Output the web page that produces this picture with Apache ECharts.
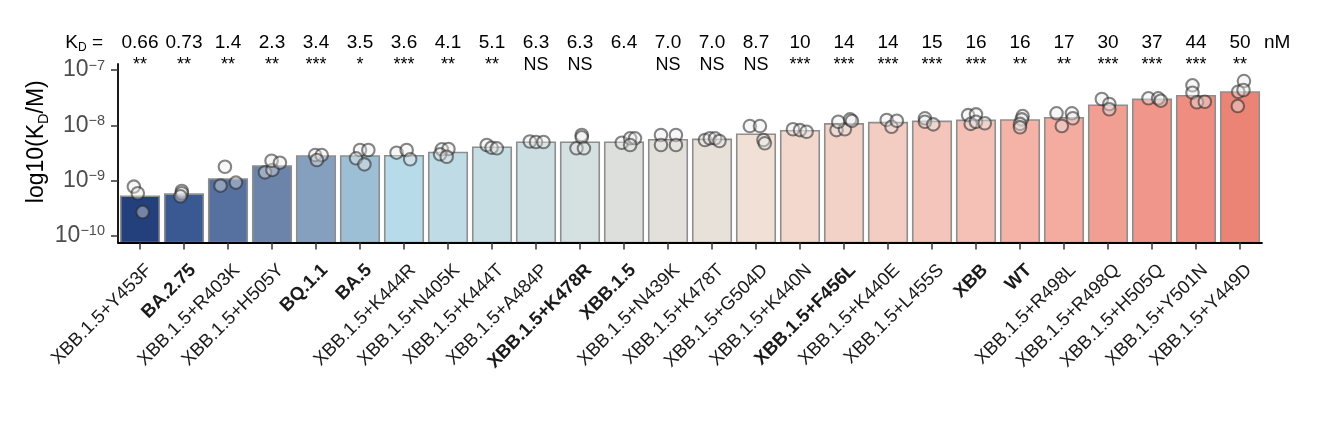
<!DOCTYPE html>
<html>
<head>
<meta charset="utf-8">
<script src="https://cdn.jsdelivr.net/npm/echarts@6/dist/echarts.min.js"></script>
<style>
html,body{margin:0;padding:0;background:#fff;}
#chart{width:1333px;height:437px;}
</style>
</head>
<body>
<div id="chart"></div>
<script>
// ---- data ----
const categories = ['XBB.1.5+Y453F','BA.2.75','XBB.1.5+R403K','XBB.1.5+H505Y','BQ.1.1','BA.5','XBB.1.5+K444R','XBB.1.5+N405K','XBB.1.5+K444T','XBB.1.5+A484P','XBB.1.5+K478R','XBB.1.5','XBB.1.5+N439K','XBB.1.5+K478T','XBB.1.5+G504D','XBB.1.5+K440N','XBB.1.5+F456L','XBB.1.5+K440E','XBB.1.5+L455S','XBB','WT','XBB.1.5+R498L','XBB.1.5+R498Q','XBB.1.5+H505Q','XBB.1.5+Y501N','XBB.1.5+Y449D'];
const highlighted = ['BA.2.75','BQ.1.1','BA.5','XBB.1.5+K478R','XBB.1.5','XBB.1.5+F456L','XBB','WT'];
const kdLabels = ['0.66','0.73','1.4','2.3','3.4','3.5','3.6','4.1','5.1','6.3','6.3','6.4','7.0','7.0','8.7','10','14','14','15','16','16','17','30','37','44','50'];
const significance = ['**','**','**','**','***','*','***','**','**','NS','NS','','NS','NS','NS','***','***','***','***','***','**','**','***','***','***','**'];
// bar heights (K_D, M)
const barValues = [5.2e-10,5.7e-10,1.07e-9,1.84e-9,2.79e-9,2.79e-9,2.82e-9,3.22e-9,4.0e-9,4.93e-9,4.93e-9,4.93e-9,5.49e-9,5.58e-9,6.88e-9,7.98e-9,1.06e-8,1.12e-8,1.18e-8,1.23e-8,1.25e-8,1.37e-8,2.30e-8,2.95e-8,3.42e-8,4.0e-8];
// replicate measurements (K_D, M) per category
const replicates = [
  [7.8e-10,5.9e-10,2.7e-10],
  [6.5e-10,5.9e-10,5.2e-10],
  [1.78e-9,8.1e-10,9.2e-10],
  [1.41e-9,1.56e-9,2.29e-9,2.11e-9],
  [2.9e-9,2.9e-9,2.36e-9],
  [3.58e-9,3.58e-9,2.53e-9,1.97e-9],
  [3.2e-9,3.58e-9,2.43e-9],
  [3.68e-9,3.73e-9,2.99e-9,2.70e-9],
  [4.41e-9,3.94e-9,3.84e-9],
  [5.1e-9,5.0e-9,5.0e-9],
  [6.68e-9,6.07e-9,3.84e-9,3.84e-9],
  [4.84e-9,5.82e-9,5.82e-9,4.41e-9],
  [6.68e-9,6.68e-9,4.41e-9,4.41e-9],
  [5.42e-9,5.82e-9,5.82e-9,5.2e-9],
  [9.7e-9,9.7e-9,5.42e-9,4.73e-9],
  [8.5e-9,8.2e-9,7.66e-9],
  [8.2e-9,8.5e-9,1.16e-8,1.28e-8,1.2e-8],
  [1.25e-8,9.4e-9,1.21e-8],
  [1.34e-8,1.16e-8,1.04e-8],
  [1.53e-8,1.58e-8,1.06e-8,1.16e-8,1.09e-8],
  [1.47e-8,1.28e-8,1.06e-8,9.2e-9],
  [1.65e-8,1.65e-8,1.34e-8,9.7e-9],
  [2.99e-8,2.43e-8,1.95e-8],
  [3.08e-8,3.08e-8,2.79e-8],
  [5.29e-8,3.89e-8,2.61e-8,2.67e-8],
  [6.32e-8,4.05e-8,4.35e-8,2.23e-8]
];
// horizontal jitter of each replicate (category units)
const jitter = [
  [-0.14,-0.05,0.06],
  [-0.05,-0.05,-0.08],
  [-0.07,-0.17,0.18],
  [-0.16,0.01,-0.01,0.18],
  [-0.02,0.13,0.02],
  [0,0.19,-0.09,0.10],
  [-0.17,0.06,0.14],
  [-0.14,0.01,-0.18,-0.03],
  [-0.12,-0.01,0.11],
  [-0.14,0,0.17],
  [0.04,0.04,-0.08,0.09],
  [-0.05,0.14,0.25,0.14],
  [-0.16,0.18,-0.16,0.18],
  [-0.16,-0.05,0.07,0.17],
  [-0.14,0.09,0.17,0.2],
  [-0.16,0,0.15],
  [-0.17,0.02,-0.13,0.14,0.18],
  [-0.03,0.08,0.2],
  [-0.16,-0.16,0.03],
  [-0.18,0,-0.12,0,0.2],
  [0.06,0.04,0,0],
  [-0.17,0.18,0.2,-0.05],
  [-0.14,0.03,0.03],
  [-0.08,0.14,0.2],
  [-0.08,-0.08,0.02,0.2],
  [0.09,-0.04,0.08,-0.05]
];
const yTicks = [1e-10,1e-9,1e-8,1e-7];
const yMin = 7.6e-11, yMax = 1.285e-7;

// ---- styles ----
const barColors = ['#24407c','#3a5892','#56709f','#6c83aa','#85a0bf','#9dbfd6','#b7dbe9','#bfdbe5','#c5dde3','#cddfe3','#d5e0e1','#dcdfdc','#e3e0db','#e8e1da','#f0e0d5','#f3d9cd','#f2d1c6','#f3cdc2','#f4c6bb','#f5c0b5','#f5b3a8','#f4aba0','#f29f93','#f0968a','#ee8d80','#eb8474'];
const FONT = 'Liberation Sans, Arial, Helvetica, sans-serif';

const barData = categories.map((c, i) => [i, barValues[i]]);
const pointData = [];
replicates.forEach((arr, i) => arr.forEach((v, k) => pointData.push([i + jitter[i][k], v])));

const chart = echarts.init(document.getElementById('chart'), null, {renderer: 'canvas'});
const option = {
  backgroundColor: '#fff',
  animation: false,
  grid: {left: 118, right: 71, top: 64, bottom: 194.5, containLabel: false, outerBoundsMode: 'none'},
  xAxis: [
    {
      type: 'category', data: categories, position: 'bottom', z: 10,
      axisLine: {show: true, onZero: false, lineStyle: {color: '#000', width: 1.8}},
      axisTick: {show: true, alignWithLabel: true, length: 7, lineStyle: {color: '#333', width: 1.5}},
      axisLabel: {
        interval: 0, rotate: 45, margin: 16, align: 'right', verticalAlign: 'top',
        padding: [3, 0, 0, 0],
        color: '#1a1a1a', fontSize: 18.5, fontFamily: FONT,
        formatter: (v) => highlighted.indexOf(v) >= 0 ? '{b|' + v + '}' : v,
        rich: {b: {fontWeight: 'bold', fontSize: 18.5, fontFamily: FONT, color: '#1a1a1a'}}
      },
      splitLine: {show: false}
    },
    {
      type: 'value', position: 'bottom', show: false, min: -0.5, max: categories.length - 0.5
    },
    {
      type: 'category', data: categories, position: 'top', offset: 21,
      axisLine: {show: false}, axisTick: {show: false}, splitLine: {show: false},
      axisLabel: {interval: 0, margin: 0, verticalAlign: 'middle', color: '#000', fontSize: 19, fontFamily: FONT,
        formatter: (v, i) => kdLabels[i]},
      name: 'nM', nameLocation: 'end', nameGap: 2,
      nameTextStyle: {color: '#000', fontSize: 19, fontFamily: FONT, align: 'left', verticalAlign: 'middle'}
    },
    {
      type: 'category', data: categories, position: 'top', offset: -0.7,
      axisLine: {show: false}, axisTick: {show: false}, splitLine: {show: false},
      axisLabel: {interval: 0, margin: 0, verticalAlign: 'middle', color: '#000', fontSize: 18, fontFamily: FONT,
        formatter: (v, i) => significance[i]}
    },
    {
      type: 'category', data: categories, position: 'top', offset: 21,
      axisLine: {show: false}, axisTick: {show: false}, splitLine: {show: false},
      axisLabel: {show: false},
      name: 'K{sub|D} =', nameLocation: 'start', nameGap: 15,
      nameTextStyle: {color: '#000', fontSize: 19, lineHeight: 22, fontFamily: FONT, align: 'right', verticalAlign: 'middle',
        rich: {sub: {fontSize: 12, fontFamily: FONT, color: '#000', verticalAlign: 'bottom'}}}
    }
  ],
  yAxis: {
    type: 'log', logBase: 10, min: yMin, max: yMax, z: 10,
    axisLine: {show: true, onZero: false, lineStyle: {color: '#000', width: 1.8}},
    axisTick: {show: true, length: 7, lineStyle: {color: '#333', width: 1.5}, customValues: yTicks},
    splitLine: {show: false},
    axisLabel: {
      customValues: yTicks, margin: 13, color: '#4d4d4d', fontSize: 23, lineHeight: 24, fontFamily: FONT,
      formatter: (v) => '10{sup|\u2212' + Math.abs(Math.round(Math.log10(v))) + '}',
      rich: {sup: {fontSize: 14.5, lineHeight: 14, fontFamily: FONT, color: '#4d4d4d', verticalAlign: 'top'}}
    },
    name: 'log10(K{sub|D}/M)', nameLocation: 'middle', nameRotate: 90, nameGap: 67, nameMoveOverlap: false,
    nameTextStyle: {color: '#000', fontSize: 23, lineHeight: 28, fontFamily: FONT, padding: [0, 0, 0, 23],
      rich: {sub: {fontSize: 14.5, fontFamily: FONT, color: '#000', verticalAlign: 'bottom'}}}
  },
  series: [
    {
      type: 'custom', xAxisIndex: 0, yAxisIndex: 0, data: barData, z: 2,
      renderItem: function (params, api) {
        const i = api.value(0);
        const top = api.coord([i, api.value(1)]);
        const bottom = api.coord([i, yMin]);
        const w = api.size([1, 0])[0] * 0.875;
        return {
          type: 'rect',
          shape: {x: top[0] - w / 2, y: top[1], width: w, height: bottom[1] - top[1]},
          style: {fill: barColors[i], stroke: '#8e8e8e', lineWidth: 1.6}
        };
      }
    },
    {
      type: 'scatter', xAxisIndex: 1, yAxisIndex: 0, data: pointData, z: 3,
      symbol: 'circle', symbolSize: 12.5,
      itemStyle: {color: 'rgba(235,235,235,0.5)', borderColor: 'rgba(40,40,40,0.7)', borderWidth: 2.1}
    }
  ]
};
chart.setOption(option);
</script>
</body>
</html>
